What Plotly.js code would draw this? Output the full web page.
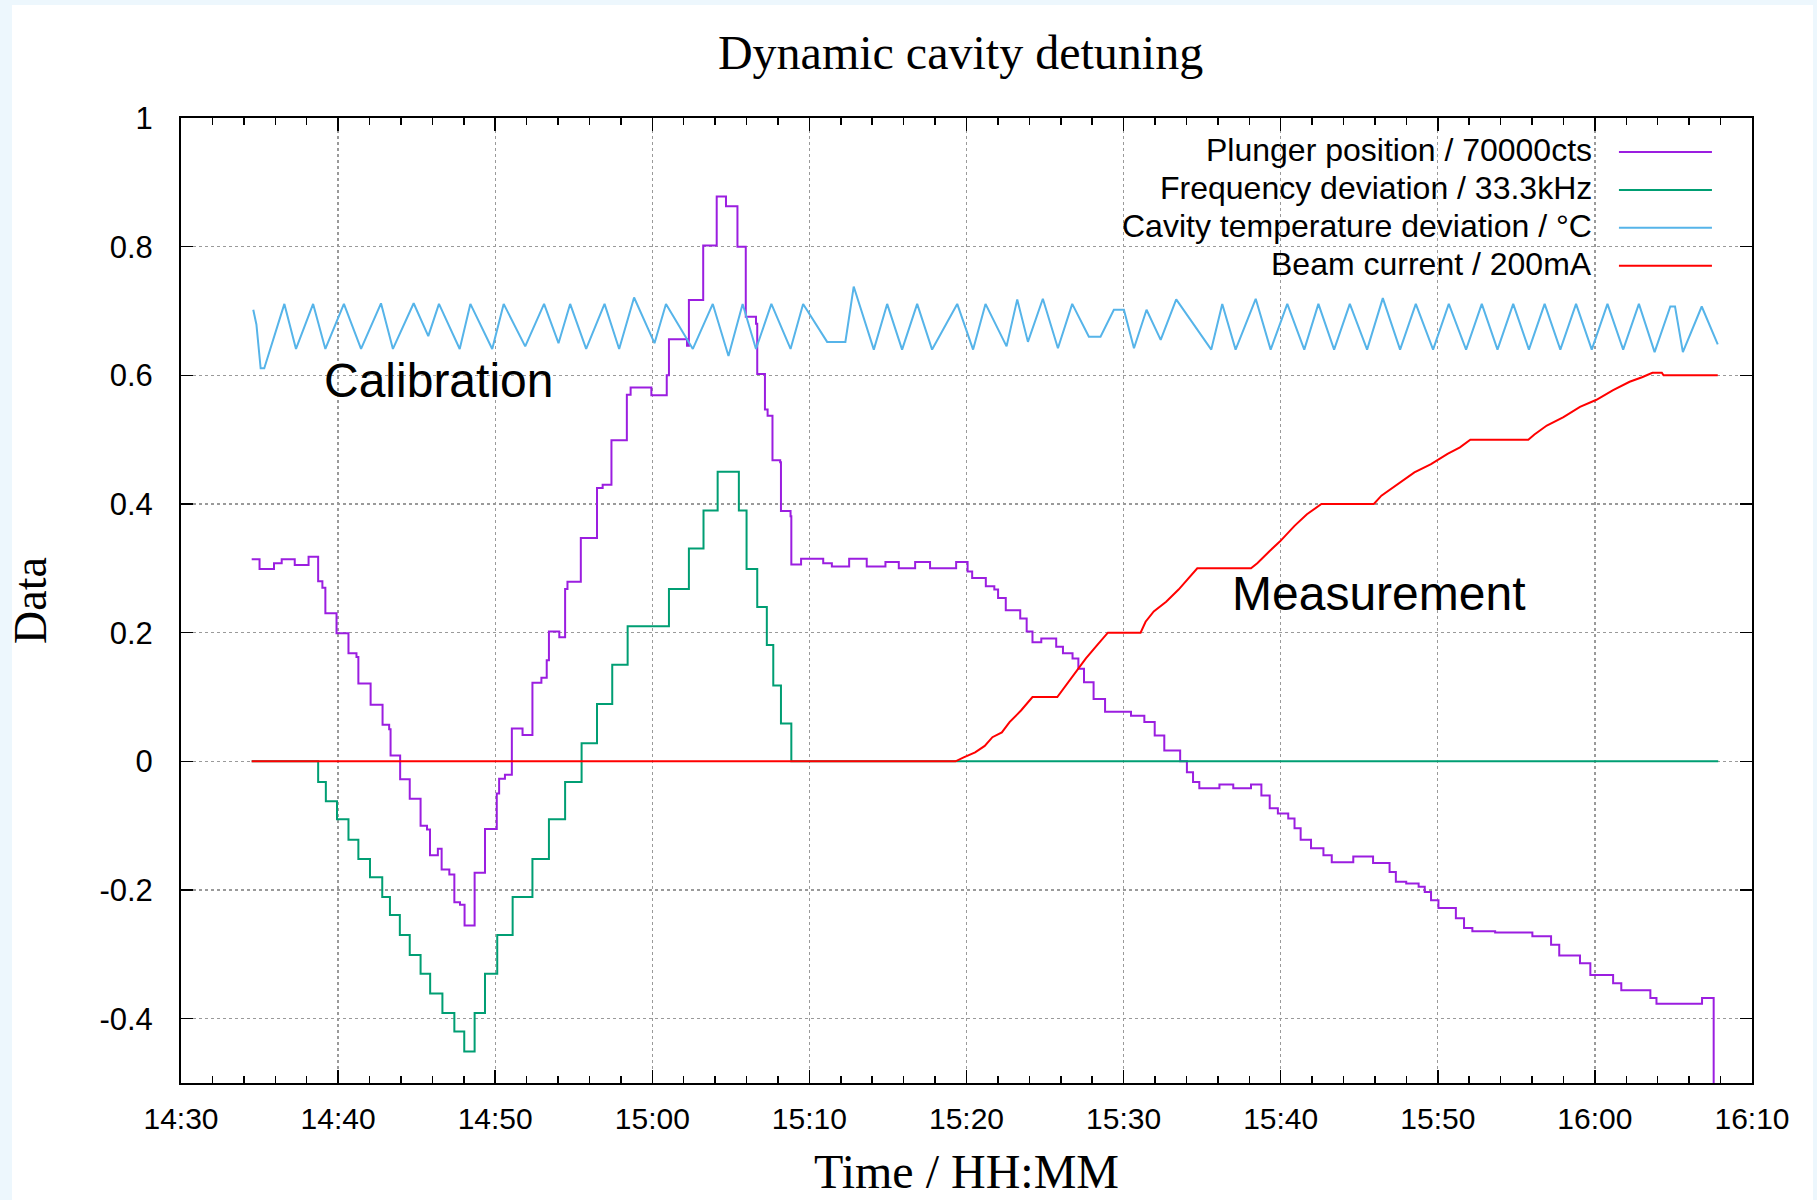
<!DOCTYPE html>
<html><head><meta charset="utf-8">
<script src="https://cdn.plot.ly/plotly-3.0.1.min.js"></script>
<style>
html,body{margin:0;padding:0;background:#edf7fd;}
#frame{position:absolute;left:12px;top:5px;width:1801px;height:1195px;background:#fff;}
#chart{position:absolute;left:0;top:0;width:1817px;height:1200px;}
</style></head><body>
<div id="frame"></div><div id="chart"></div>
<script>
// Time values are minutes after 14:30:00
const plungerMin = [4.5, 5.0, 5.92, 6.41, 7.24, 8.12, 8.73, 9.0, 9.19, 9.9,
  10.66, 11.17, 11.29, 12.07, 12.83, 13.25, 13.34, 13.95, 14.56, 15.25,
  15.66, 15.85, 16.35, 16.59, 17.08, 17.4, 17.76, 18.05, 18.69, 19.35,
  20.1, 20.25, 20.62, 21.06, 21.74, 22.37, 22.94, 23.28, 23.42, 24.08,
  24.45, 24.6, 25.45, 26.48, 26.84, 27.4, 28.38, 28.62, 29.94, 30.92,
  31.06, 32.21, 32.33, 33.24, 34.1, 34.69, 35.42, 35.95, 36.6, 36.68,
  37.17, 37.34, 37.65, 38.14, 38.19, 38.8, 38.85, 39.47, 40.88, 41.43,
  42.53, 43.65, 44.84, 45.69, 46.73, 47.68, 49.34, 50.07, 50.36, 51.23,
  51.77, 52.01, 52.5, 53.42, 53.83, 54.2, 54.76, 55.71, 56.14, 56.75,
  57.12, 57.48, 58.09, 58.82, 60.47, 61.32, 61.98, 62.59, 63.6, 64.03,
  64.42, 64.82, 66.1, 66.98, 68.11, 68.77, 69.3, 69.82, 70.48, 70.88,
  71.27, 71.93, 72.72, 73.25, 74.62, 75.88, 76.93, 77.33, 77.99, 78.78,
  79.17, 79.57, 80.04, 81.15, 81.67, 82.2, 83.65, 86.02, 87.21, 87.73,
  89.05, 89.71, 91.16, 91.68, 93.53, 93.92, 96.82, 97.56];
const plungerVal = [0.314, 0.299, 0.308, 0.314, 0.305, 0.318, 0.28, 0.27, 0.23, 0.199,
  0.168, 0.162, 0.121, 0.088, 0.057, 0.05, 0.009, -0.028, -0.058, -0.1,
  -0.106, -0.146, -0.136, -0.168, -0.176, -0.219, -0.223, -0.255, -0.173, -0.105,
  -0.05, -0.027, -0.021, 0.051, 0.041, 0.122, 0.13, 0.157, 0.202, 0.193,
  0.268, 0.279, 0.347, 0.425, 0.43, 0.499, 0.57, 0.581, 0.569, 0.6,
  0.656, 0.646, 0.717, 0.802, 0.878, 0.863, 0.8, 0.691, 0.68, 0.602,
  0.547, 0.537, 0.468, 0.465, 0.389, 0.381, 0.306, 0.315, 0.308, 0.303,
  0.315, 0.303, 0.31, 0.3, 0.31, 0.3, 0.31, 0.295, 0.285, 0.272,
  0.267, 0.254, 0.235, 0.222, 0.202, 0.185, 0.191, 0.178, 0.168, 0.16,
  0.144, 0.123, 0.097, 0.077, 0.071, 0.061, 0.04, 0.017, 0.0, -0.017,
  -0.032, -0.042, -0.036, -0.042, -0.036, -0.053, -0.073, -0.081, -0.089, -0.104,
  -0.122, -0.135, -0.146, -0.157, -0.148, -0.158, -0.172, -0.187, -0.19, -0.195,
  -0.203, -0.216, -0.228, -0.244, -0.259, -0.264, -0.266, -0.272, -0.285, -0.302,
  -0.314, -0.332, -0.345, -0.356, -0.368, -0.377, -0.368, -0.5];

const freqMin = [4.5, 8.73, 9.22, 9.93, 10.66, 11.29, 12.03, 12.81, 13.3, 13.93,
  14.56, 15.25, 15.86, 16.64, 17.4, 18.03, 18.69, 19.35, 20.13, 21.11,
  22.37, 23.42, 24.45, 25.5, 26.48, 27.45, 28.43, 31.06, 32.33, 33.26,
  34.16, 35.51, 36.0, 36.68, 37.29, 37.7, 38.19, 38.85, 97.85];
const freqVal = [0, -0.032, -0.062, -0.09, -0.122, -0.152, -0.18, -0.211, -0.239, -0.27,
  -0.301, -0.33, -0.361, -0.391, -0.42, -0.451, -0.391, -0.33, -0.27, -0.211,
  -0.152, -0.09, -0.032, 0.028, 0.089, 0.15, 0.21, 0.268, 0.331, 0.39,
  0.45, 0.39, 0.299, 0.24, 0.181, 0.118, 0.059, 0, 0];

const tempMin = [4.6, 4.8, 5.07, 5.3, 6.58, 7.32, 8.41, 9.19, 10.37, 11.46,
  12.73, 13.49, 14.81, 15.74, 16.42, 17.74, 18.42, 19.81, 20.54, 21.91,
  23.11, 24.03, 24.77, 25.79, 26.96, 27.89, 28.84, 30.14, 30.87, 32.58,
  33.85, 34.85, 35.75, 36.6, 37.58, 38.8, 39.6, 41.13, 42.29, 42.82,
  44.1, 44.95, 45.9, 46.86, 47.81, 49.41, 50.42, 51.21, 52.55, 53.23,
  53.91, 54.86, 55.82, 56.73, 57.79, 58.53, 59.38, 60.02, 60.66, 61.46,
  62.36, 63.35, 65.58, 66.28, 67.13, 68.41, 69.36, 70.42, 71.5, 72.4,
  73.4, 74.4, 75.5, 76.5, 77.6, 78.6, 79.7, 80.7, 81.8, 82.8,
  83.8, 84.8, 85.8, 86.8, 87.8, 88.8, 89.8, 90.8, 91.8, 92.8,
  93.8, 94.8, 95.1, 95.6, 96.8, 97.82];
const tempVal = [0.702, 0.679, 0.611, 0.611, 0.711, 0.641, 0.711, 0.641, 0.711, 0.641,
  0.712, 0.641, 0.712, 0.661, 0.711, 0.641, 0.711, 0.641, 0.711, 0.645,
  0.711, 0.65, 0.711, 0.641, 0.711, 0.641, 0.721, 0.65, 0.711, 0.641,
  0.711, 0.63, 0.711, 0.641, 0.711, 0.641, 0.711, 0.652, 0.652, 0.738,
  0.64, 0.711, 0.64, 0.711, 0.64, 0.711, 0.64, 0.711, 0.645, 0.718,
  0.652, 0.719, 0.642, 0.711, 0.66, 0.66, 0.702, 0.702, 0.642, 0.702,
  0.655, 0.718, 0.64, 0.711, 0.64, 0.719, 0.64, 0.711, 0.64, 0.711,
  0.64, 0.711, 0.64, 0.72, 0.64, 0.711, 0.64, 0.711, 0.64, 0.711,
  0.64, 0.711, 0.64, 0.711, 0.64, 0.711, 0.64, 0.711, 0.64, 0.711,
  0.636, 0.707, 0.707, 0.636, 0.707, 0.648];

const beamMin = [4.5, 49.3, 49.82, 50.55, 51.16, 51.65, 52.25, 52.74, 53.47, 54.2,
  55.78, 56.39, 56.99, 57.6, 58.33, 59.0, 61.08, 61.4, 61.92, 62.71,
  63.5, 64.16, 64.69, 68.11, 68.51, 69.3, 69.96, 70.88, 71.67, 72.59,
  75.93, 76.41, 77.46, 78.51, 79.57, 80.62, 81.41, 82.07, 85.76, 86.15,
  86.94, 88.0, 89.05, 90.1, 91.16, 92.21, 93.0, 93.66, 94.26, 94.37,
  97.82];
const beamVal = [0, 0, 0.006, 0.014, 0.024, 0.0375, 0.045, 0.061, 0.079, 0.1,
  0.1, 0.12, 0.14, 0.16, 0.181, 0.2, 0.2, 0.217, 0.233, 0.248,
  0.267, 0.285, 0.3, 0.3, 0.308, 0.327, 0.342, 0.366, 0.384, 0.4,
  0.4, 0.413, 0.431, 0.449, 0.462, 0.478, 0.488, 0.5, 0.5, 0.508,
  0.522, 0.535, 0.551, 0.562, 0.577, 0.59, 0.597, 0.604, 0.604, 0.6,
  0.6];

const seriesNames = ['Plunger position / 70000cts', 'Frequency deviation / 33.3kHz',
  'Cavity temperature deviation / \u00B0C', 'Beam current / 200mA'];
const seriesColors = ['#9b1ee0', '#009e73', '#56b4e9', '#ff0000'];
const yTickVals = [-0.4, -0.2, 0, 0.2, 0.4, 0.6, 0.8, 1];
const yTickText = ['-0.4', '-0.2', '0', '0.2', '0.4', '0.6', '0.8', '1'];
const annoLabels = ['Calibration', 'Measurement'];

const T0 = Date.UTC(2000, 0, 1, 14, 30, 0);
const toX = arr => arr.map(m => T0 + m * 60000);

const traces = [
  {x: toX(plungerMin), y: plungerVal, name: seriesNames[0], mode: 'lines', line: {color: seriesColors[0], width: 2, shape: 'hv'}},
  {x: toX(freqMin), y: freqVal, name: seriesNames[1], mode: 'lines', line: {color: seriesColors[1], width: 2, shape: 'hv'}},
  {x: toX(tempMin), y: tempVal, name: seriesNames[2], mode: 'lines', line: {color: seriesColors[2], width: 2}},
  {x: toX(beamMin), y: beamVal, name: seriesNames[3], mode: 'lines', line: {color: seriesColors[3], width: 2}}
];

const legY = [0.9668, 0.9274, 0.8883, 0.8489];
const shapes = [{type: 'rect', xref: 'paper', yref: 'paper', x0: 0.469, x1: 0.9955, y0: 0.827, y1: 0.998,
  fillcolor: '#ffffff', line: {width: 0}, layer: 'between'}];
const annotations = [];
seriesNames.forEach((n, i) => {
  shapes.push({type: 'line', xref: 'paper', yref: 'paper', x0: 0.9153, x1: 0.9745, y0: legY[i] - 0.002, y1: legY[i] - 0.002,
    line: {color: seriesColors[i], width: 2}});
  annotations.push({xref: 'paper', yref: 'paper', x: 0.8995, y: legY[i], xanchor: 'right', yanchor: 'middle',
    text: n, showarrow: false, font: {family: 'Liberation Sans', size: 32, color: '#000'}});
});
annotations.push({xref: 'paper', yref: 'paper', x: 0.0895, y: 0.7275, xanchor: 'left', yanchor: 'middle',
  text: annoLabels[0], showarrow: false, font: {family: 'Liberation Sans', size: 48, color: '#000'}});
annotations.push({xref: 'paper', yref: 'paper', x: 0.6675, y: 0.5075, xanchor: 'left', yanchor: 'middle',
  text: annoLabels[1], showarrow: false, font: {family: 'Liberation Sans', size: 48, color: '#000'}});

const gridCol = '#9a9a9a';
const layout = {
  width: 1817, height: 1200,
  margin: {l: 181, r: 65, t: 118, b: 117, pad: 0},
  paper_bgcolor: 'rgba(0,0,0,0)',
  plot_bgcolor: '#ffffff',
  showlegend: false,
  title: {text: 'Dynamic cavity detuning', font: {family: 'Liberation Serif', size: 48, color: '#000'},
    x: 0.4962, xref: 'paper', xanchor: 'center', y: 1 - 52 / 1200, yref: 'container', yanchor: 'middle'},
  xaxis: {
    type: 'date', range: [T0, T0 + 100 * 60000], tickformat: '%H:%M', dtick: 600000, tick0: T0,
    ticks: 'inside', ticklen: 13, tickwidth: 1.5, tickcolor: '#000',
    showline: true, linecolor: '#000', linewidth: 2, mirror: 'ticks',
    showgrid: true, gridcolor: gridCol, gridwidth: 1.3, griddash: '3px,3px', zeroline: false,
    tickfont: {family: 'Liberation Sans', size: 30, color: '#000'}, ticklabelstandoff: 8,
    minor: {dtick: 120000, tick0: T0, ticks: 'inside', ticklen: 7, tickwidth: 1.5, tickcolor: '#000', showgrid: false},
    title: {text: 'Time / HH:MM', font: {family: 'Liberation Serif', size: 48, color: '#000'}, standoff: 20}
  },
  yaxis: {
    range: [-0.5, 1], tickmode: 'array', tickvals: yTickVals, ticktext: yTickText,
    ticks: 'inside', ticklen: 12, tickwidth: 1.5, tickcolor: '#000',
    showline: true, linecolor: '#000', linewidth: 2, mirror: 'ticks',
    showgrid: true, gridcolor: gridCol, gridwidth: 1.3, griddash: '3px,3px', zeroline: false,
    tickfont: {family: 'Liberation Sans', size: 31, color: '#000'}, ticklabelstandoff: 20,
    title: {text: 'Data', font: {family: 'Liberation Serif', size: 46, color: '#000'}, standoff: 38}
  },
  shapes: shapes,
  annotations: annotations
};

Plotly.newPlot('chart', traces, layout, {displayModeBar: false, staticPlot: true});
</script></body></html>
